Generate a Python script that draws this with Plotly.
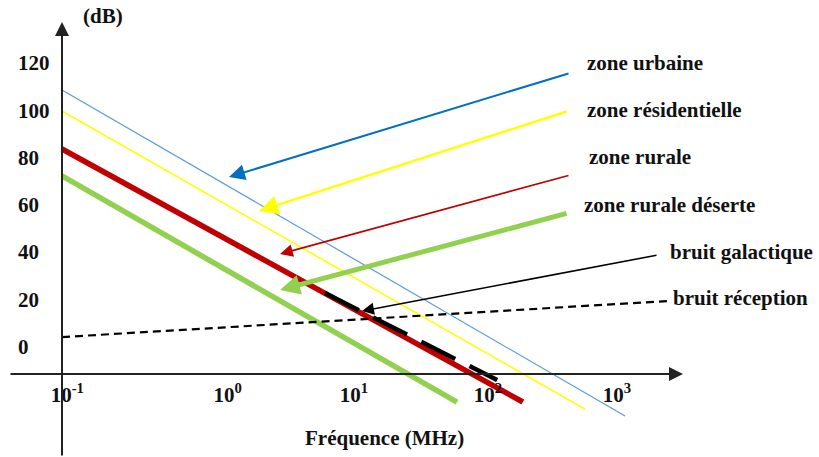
import math
import plotly.graph_objects as go

# ---------------- data ----------------
freq_urbaine = [0.1, 923]
db_urbaine = [108.6, -29.4]
freq_resid = [0.1, 482]
db_resid = [99.7, -26.5]
freq_rurale = [0.1, 176]
db_rurale = [83.6, -23.5]
freq_deserte = [0.1, 60.5]
db_deserte = [72.2, -23.5]
freq_galact = [7.1, 116]
db_galact = [22.6, -14.2]
freq_recep = [0.1, 1900]
db_recep = [4.0, 19.3]

x_tickvals = [0.1, 1, 10, 100, 1000]
x_ticktext = ["10<sup>-1</sup>", "10<sup>0</sup>", "10<sup>1</sup>", "10<sup>2</sup>", "10<sup>3</sup>"]
y_tickvals = [0, 20, 40, 60, 80, 100, 120]
y_ticktext = ["0", "20", "40", "60", "80", "100", "120"]

# ---------------- geometry helpers (pixel -> axis units) ----------------
W, H = 819, 457
X0_PX, PX_PER_DEC = 62, 142.0
Y0_PX, PX_PER_DB = 346.5, 2.3625


def lx(px):
    return -1 + (px - X0_PX) / PX_PER_DEC


def ly(py):
    return (Y0_PX - py) / PX_PER_DB


FONT = "Liberation Serif"
FS = 21

# the reference places its x labels by hand: nudge them with no-break spaces
NB = "\u00a0"
x_pad = [(2, 0), (9, 0), (3, 0), (0, 0), (0, 5)]
x_ticktext_shown = [NB * a + t + NB * b for t, (a, b) in zip(x_ticktext, x_pad)]

fig = go.Figure()


def add_line(fx, fy, color, width, dash="solid"):
    fig.add_trace(go.Scatter(x=fx, y=fy, mode="lines",
                             line=dict(color=color, width=width, dash=dash),
                             showlegend=False, hoverinfo="skip"))


add_line(freq_urbaine, db_urbaine, "#5B9BD5", 1.2)
add_line(freq_resid, db_resid, "#FFFF00", 1.6)
add_line(freq_deserte, db_deserte, "#92D050", 5.5)
add_line(freq_rurale, db_rurale, "#C00000", 5.5)
add_line(freq_galact, db_galact, "#000000", 4.5, dash="38px,16px")
add_line(freq_recep, db_recep, "#000000", 2.2, dash="8px,5px")

ann = []
# axes drawn as arrows
ann.append(dict(x=lx(683), y=ly(374), ax=lx(9), ay=ly(374), xref="x", yref="y",
                axref="x", ayref="y", text="", showarrow=True, arrowhead=2,
                arrowsize=1.4, arrowwidth=2, arrowcolor="#222", standoff=0))
ann.append(dict(x=lx(62), y=ly(22), ax=lx(62), ay=ly(457), xref="x", yref="y",
                axref="x", ayref="y", text="", showarrow=True, arrowhead=2,
                arrowsize=1.4, arrowwidth=2, arrowcolor="#222", standoff=0))

# pointer arrows
arrows = [
    ((570, 73), (229, 177), "#0070C0", 2.0),
    ((568, 111), (259, 211), "#FFFF00", 2.4),
    ((570, 175), (280, 254), "#C00000", 1.6),
    ((568, 213), (280, 290), "#92D050", 5.0),
    ((658, 255), (362, 311), "#000000", 1.5),
]
for (tx, ty), (hx, hy), col, w in arrows:
    ann.append(dict(x=lx(hx), y=ly(hy), ax=lx(tx), ay=ly(ty), xref="x", yref="y",
                    axref="x", ayref="y", text="", showarrow=True, arrowhead=2,
                    arrowsize=1.6 if w < 3 else 0.8, arrowwidth=w, arrowcolor=col,
                    standoff=0))

labels = [
    ("zone urbaine", 585, 63),
    ("zone résidentielle", 585, 110),
    ("zone rurale", 587, 157),
    ("zone rurale déserte", 582, 205),
    ("bruit galactique", 668, 252),
    ("bruit réception", 671, 298),
]
for t, px, py in labels:
    ann.append(dict(x=px / W, y=1 - py / H, xref="paper", yref="paper", text="<b>" + t + "</b>",
                    showarrow=False, xanchor="left", yanchor="middle",
                    font=dict(family=FONT, size=FS, color="#111")))

ann.append(dict(x=103 / W, y=1 - 16 / H, xref="paper", yref="paper", text="<b>(dB)</b>",
                showarrow=False, xanchor="center", yanchor="middle",
                font=dict(family=FONT, size=FS, color="#111")))
ann.append(dict(x=384 / W, y=1 - 438 / H, xref="paper", yref="paper",
                text="<b>Fréquence (MHz)</b>", showarrow=False, xanchor="center",
                yanchor="middle", font=dict(family=FONT, size=FS, color="#111")))

fig.update_layout(
    width=W, height=H,
    margin=dict(l=0, r=0, t=0, b=0),
    paper_bgcolor="white", plot_bgcolor="white",
    annotations=ann,
    xaxis=dict(type="log", range=[lx(0), lx(W)], showgrid=False, zeroline=False,
               showline=False, ticks="", tickvals=x_tickvals, ticktext=x_ticktext_shown,
               anchor="free", position=1 - 374 / H, ticklabelstandoff=6,
               tickfont=dict(family=FONT, size=FS, color="#111", weight="bold")),
    yaxis=dict(range=[ly(H), ly(0)], showgrid=False, zeroline=False, showline=False,
               ticks="", tickvals=y_tickvals, ticktext=y_ticktext,
               anchor="free", position=14 / W, side="left", ticklabelposition="inside",
               tickfont=dict(family=FONT, size=FS, color="#111", weight="bold")),
)

fig.write_html("out.html", config={"displayModeBar": False},
               post_script="document.body.style.margin='0';document.body.style.overflow='hidden';")
